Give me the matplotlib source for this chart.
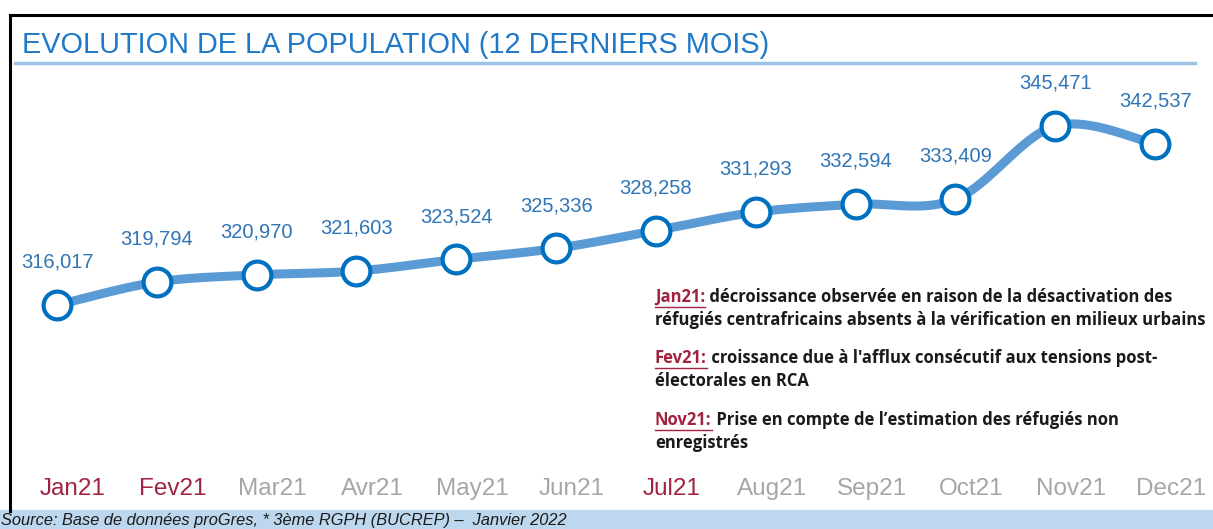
import numpy as np
import matplotlib
matplotlib.use("Agg")
import matplotlib.pyplot as plt
from matplotlib.lines import Line2D
from matplotlib.patches import Rectangle

months = ["Jan21", "Fev21", "Mar21", "Avr21", "May21", "Jun21",
          "Jul21", "Aug21", "Sep21", "Oct21", "Nov21", "Dec21"]
population = [316017, 319794, 320970, 321603, 323524, 325336,
              328258, 331293, 332594, 333409, 345471, 342537]
highlight = ["Jan21", "Fev21", "Jul21"]

notes = [
    ("Jan21:", [" décroissance observée en raison de la désactivation des",
                "réfugiés centrafricains absents à la vérification en milieux urbains"]),
    ("Fev21:", [" croissance due à l'afflux consécutif aux tensions post-",
                "électorales en RCA"]),
    ("Nov21:", [" Prise en compte de l\u2019estimation des réfugiés non",
                "enregistrés"]),
]

W, H = 1213, 529
fig = plt.figure(figsize=(W / 100, H / 100), dpi=100)
fig.patch.set_facecolor("white")


def fx(px):
    return px / W


def fy(py):
    return 1 - py / H


# frame and source band
fig.add_artist(Line2D([fx(9.5), fx(9.5)], [fy(15), fy(511)], color="black", lw=2.2))
fig.add_artist(Line2D([fx(9.5), 1], [fy(15), fy(15)], color="black", lw=2.2))
fig.add_artist(Rectangle((0, 0), 1, fy(510), color="#BDD7EE", zorder=0))
fig.text(fx(1), fy(521), "Source: Base de données proGres, * 3ème RGPH (BUCREP) \u2013  Janvier 2022",
         fontsize=11.8, style="italic", color="#1a1a1a", va="center", ha="left",
         family="Liberation Sans")

# title
fig.text(fx(22), fy(45), "EVOLUTION DE LA POPULATION (12 DERNIERS MOIS)",
         fontsize=20.8, color="#1F78C8", va="center", ha="left",
         family="Liberation Sans")
fig.add_artist(Line2D([fx(15), fx(1195)], [fy(63), fy(63)], color="#9DC3E6", lw=2.5))

# main axes
top_px, bot_px = 70, 475
ax = fig.add_axes([0, fy(bot_px), 1, (bot_px - top_px) / H])
ax.set_facecolor("none")
x = np.arange(len(months))
px_per_unit = 99.82
ax.set_xlim(-57 / px_per_unit, (W - 57) / px_per_unit)
scale = 0.006077
ax.set_ylim(316017 - (bot_px - 305) / scale, 316017 + (305 - top_px) / scale)

# smoothed line (Catmull-Rom through the points)
y = np.array(population, dtype=float)
xs, ys = [], []
pts = np.column_stack([x, y])
ext = np.vstack([pts[0], pts, pts[-1]])
for i in range(len(pts) - 1):
    p0, p1, p2, p3 = ext[i], ext[i + 1], ext[i + 2], ext[i + 3]
    t = np.linspace(0, 1, 30)[:, None]
    seg = 0.5 * ((2 * p1) + (-p0 + p2) * t + (2 * p0 - 5 * p1 + 4 * p2 - p3) * t ** 2
                 + (-p0 + 3 * p1 - 3 * p2 + p3) * t ** 3)
    xs.extend(seg[:, 0])
    ys.extend(seg[:, 1])
ax.plot(xs, ys, color="#5B9BD5", lw=6.5, solid_capstyle="round", zorder=2)
ax.plot(x, y, "o", ms=20, mfc="white", mec="#0070C0", mew=3, zorder=3)

for xi, v in zip(x, population):
    ax.annotate(f"{v:,}", (xi, v), xytext=(0, 24), textcoords="offset points",
                ha="center", va="bottom", fontsize=14.5, color="#2E75B6",
                family="Liberation Sans")

# month labels, slightly right of the points as in the source chart
for xi, m in zip(x, months):
    ax.annotate(m, (xi, 0), xycoords=("data", "axes fraction"),
                xytext=(11.5, -2), textcoords="offset points",
                ha="center", va="top", fontsize=17.5, family="Liberation Sans",
                color="#A0233F" if m in highlight else "#A6A6A6")
ax.set_xticks([])
ax.set_yticks([])
for s in ax.spines.values():
    s.set_visible(False)

# notes
red = "#A0233F"
note_y = [297, 358, 420]
fs = 12.0
for (tag, lines), y0 in zip(notes, note_y):
    t = fig.text(fx(655), fy(y0), tag, fontsize=fs, fontweight="bold", color=red,
                 va="center", ha="left", family="Open Sans")
    fig.canvas.draw()
    bb = t.get_window_extent()
    fig.add_artist(Line2D([bb.x0 / W, bb.x1 / W], [fy(y0 + 10), fy(y0 + 10)], color=red, lw=1))
    fig.text(bb.x1 / W, fy(y0), lines[0], fontsize=fs, fontweight="bold", color="#1a1a1a",
             va="center", ha="left", family="Open Sans")
    fig.text(fx(655), fy(y0 + 23), lines[1], fontsize=fs, fontweight="bold", color="#1a1a1a",
             va="center", ha="left", family="Open Sans")

fig.savefig("out.png", dpi=100)
